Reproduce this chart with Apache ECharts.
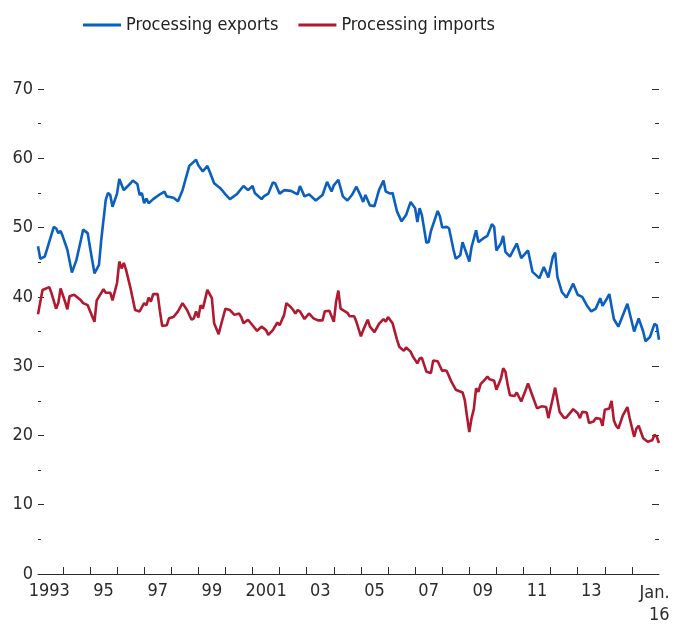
<!DOCTYPE html>
<html>
<head>
<meta charset="utf-8">
<script src="https://cdn.jsdelivr.net/npm/echarts@6/dist/echarts.min.js"></script>
<style>
	html, body { margin: 0; padding: 0; background: #fff; }
	#chart { width: 678px; height: 626px; }
</style>
</head>
<body>
<div id="chart"></div>
<script>
// months counted from Jan 1993 (0 = Jan 1993, 276 = Jan 2016)
var exportsMonths = [1, 2, 4, 8, 9, 10, 11, 12, 14, 16, 18, 20, 21, 23, 24, 26, 28, 29, 31, 32, 33, 34, 36, 37, 39, 42, 43, 45, 46, 47, 48, 49, 50, 52, 55, 57, 58, 61, 63, 65, 68, 71, 72, 74, 76, 77, 79, 82, 84, 86, 89, 92, 94, 96, 97, 100, 101, 103, 105, 106, 108, 110, 113, 116, 117, 119, 121, 122, 124, 127, 129, 131, 132, 134, 136, 138, 140, 142, 144, 145, 146, 148, 150, 152, 154, 155, 157, 158, 160, 162, 164, 166, 168, 169, 170, 171, 173, 174, 175, 178, 179, 180, 182, 183, 185, 186, 188, 189, 192, 193, 195, 196, 198, 200, 202, 203, 204, 206, 207, 208, 210, 213, 215, 218, 220, 223, 225, 227, 229, 230, 231, 233, 235, 238, 240, 242, 244, 246, 248, 250, 251, 253, 254, 256, 258, 262, 265, 267, 269, 270, 272, 274, 275, 276];
var exportsValues = [47.3, 45.5, 45.8, 50.1, 49.9, 49.2, 49.5, 48.7, 46.8, 43.5, 45.3, 48.2, 49.7, 49.2, 47.2, 43.4, 44.6, 48.2, 54.0, 55.0, 54.7, 53.0, 54.9, 57.0, 55.4, 56.4, 56.8, 56.3, 54.7, 55.0, 53.5, 54.2, 53.5, 54.1, 54.8, 55.2, 54.5, 54.3, 53.8, 55.4, 58.9, 59.8, 59.0, 58.1, 58.9, 58.1, 56.4, 55.6, 54.8, 54.1, 54.8, 56.0, 55.4, 56.0, 55.0, 54.1, 54.5, 54.9, 56.5, 56.4, 54.9, 55.4, 55.3, 54.8, 56.0, 54.5, 54.8, 54.5, 53.9, 54.7, 56.6, 55.2, 56.1, 56.9, 54.5, 53.9, 54.7, 55.9, 54.5, 53.7, 54.7, 53.2, 53.1, 55.4, 56.8, 55.2, 54.9, 55.0, 52.3, 50.9, 51.8, 53.7, 52.8, 50.8, 52.8, 51.8, 47.8, 47.9, 49.5, 52.4, 51.6, 50.0, 50.1, 49.9, 46.8, 45.5, 46.0, 47.9, 45.1, 47.2, 49.6, 47.9, 48.4, 48.8, 50.5, 50.1, 46.7, 47.7, 48.8, 46.5, 45.8, 47.7, 45.6, 46.7, 43.6, 42.7, 44.3, 42.8, 45.8, 46.4, 42.9, 40.7, 39.9, 41.9, 40.3, 40.0, 38.8, 37.9, 38.3, 39.8, 38.7, 39.8, 40.4, 36.8, 35.7, 39.0, 35.0, 36.9, 35.0, 33.6, 34.2, 36.1, 35.9, 33.8];

var importsMonths = [1, 3, 6, 7, 9, 10, 11, 13, 14, 15, 17, 20, 21, 23, 26, 27, 30, 31, 33, 34, 36, 37, 38, 39, 40, 42, 44, 46, 48, 49, 50, 51, 52, 54, 55, 56, 58, 59, 61, 63, 65, 67, 69, 70, 71, 72, 73, 74, 76, 78, 79, 81, 82, 84, 86, 88, 90, 91, 92, 94, 96, 98, 99, 100, 102, 103, 105, 107, 108, 110, 111, 113, 114, 115, 116, 117, 119, 121, 123, 125, 127, 128, 130, 132, 133, 134, 135, 138, 139, 141, 142, 144, 145, 147, 148, 150, 152, 154, 155, 156, 158, 160, 161, 163, 164, 166, 167, 169, 170, 171, 173, 175, 176, 178, 180, 181, 182, 184, 186, 189, 190, 191, 192, 193, 194, 195, 196, 197, 199, 200, 201, 203, 204, 206, 207, 208, 209, 210, 212, 213, 215, 217, 218, 220, 222, 224, 226, 227, 229, 230, 232, 234, 235, 238, 240, 241, 242, 244, 245, 247, 248, 250, 251, 252, 254, 255, 256, 257, 258, 260, 262, 263, 265, 266, 267, 269, 271, 273, 274, 275, 276];
var importsValues = [37.5, 41.0, 41.4, 40.5, 38.3, 39.1, 41.2, 39.3, 38.2, 40.1, 40.3, 39.5, 39.1, 38.8, 36.4, 39.5, 41.1, 40.6, 40.6, 39.5, 42.0, 45.1, 44.1, 44.9, 43.9, 41.2, 38.1, 37.9, 39.1, 38.8, 39.9, 39.3, 40.4, 40.4, 37.9, 35.8, 35.9, 36.9, 37.1, 37.9, 39.1, 38.1, 36.7, 36.9, 37.9, 37.0, 38.8, 38.3, 41.0, 39.8, 36.2, 34.6, 35.9, 38.3, 38.1, 37.4, 37.6, 37.1, 36.2, 36.7, 35.9, 35.1, 35.4, 35.7, 35.2, 34.5, 35.2, 36.3, 35.9, 37.4, 39.1, 38.5, 38.1, 37.6, 38.1, 37.9, 36.8, 37.6, 36.9, 36.6, 36.6, 37.9, 38.0, 36.4, 39.3, 40.9, 38.3, 37.7, 37.2, 37.2, 36.4, 34.3, 35.2, 36.7, 35.7, 34.9, 36.1, 36.8, 36.4, 37.1, 36.2, 33.8, 32.8, 32.2, 32.7, 32.1, 31.4, 30.4, 31.1, 31.2, 29.2, 29.0, 30.8, 30.7, 29.3, 29.4, 29.3, 27.8, 26.6, 26.2, 25.1, 22.7, 20.5, 22.5, 23.8, 26.8, 26.3, 27.4, 28.1, 28.5, 28.1, 27.9, 26.6, 28.2, 29.7, 29.2, 27.3, 25.8, 25.7, 26.2, 24.9, 26.6, 27.5, 25.7, 23.9, 24.2, 24.1, 22.5, 25.4, 26.9, 23.4, 22.5, 22.6, 23.8, 23.2, 22.5, 23.4, 23.3, 21.8, 22.0, 22.5, 22.4, 21.4, 23.7, 23.9, 25.0, 22.2, 21.4, 21.0, 22.9, 24.1, 22.5, 19.8, 21.0, 21.4, 19.6, 19.1, 19.3, 20.1, 19.8, 18.9];

// x-axis labels sit mid-year; last one is the end month
var labelMonths = [6, 30, 54, 78, 102, 126, 150, 174, 198, 222, 246, 274];
var labelTexts = ['1993', '95', '97', '99', '2001', '03', '05', '07', '09', '11', '13', 'Jan.\n16'];

var font = '"DejaVu Sans Condensed", "Liberation Sans Narrow", sans-serif';
var fontSize = 18;
var textColor = '#2b2b2b';

function pairs(months, values) {
	return months.map(function (m, i) { return [m, values[i]]; });
}

var yearTicks = [];
for (var y = 1994; y <= 2015; y++) {
	yearTicks.push((y - 1993) * 12);
}

var chart = echarts.init(document.getElementById('chart'), null, { renderer: 'canvas' });

var yAxisBase = {
	type: 'value',
	min: 0,
	max: 70,
	interval: 10,
	splitLine: { show: false },
	axisLine: { show: false },
	axisTick: { show: true, inside: true, length: 6, lineStyle: { color: textColor, width: 1 } },
	minorTick: { show: true, splitNumber: 2, length: 3, lineStyle: { color: textColor, width: 1 } },
	minorSplitLine: { show: false }
};

var option = {
	animation: false,
	backgroundColor: '#fff',
	textStyle: { fontFamily: font },
	legend: {
		left: 83,
		top: 16,
		padding: 0,
		icon: 'rect',
		itemWidth: 38,
		itemHeight: 3,
		itemGap: 20,
		textStyle: { fontFamily: font, fontSize: fontSize, color: '#222' },
		data: ['Processing exports', 'Processing imports']
	},
	grid: {
		left: 38,
		right: 19,
		top: 89,
		bottom: 52,
		containLabel: false,
		outerBoundsMode: 'none'
	},
	xAxis: {
		type: 'value',
		min: 1,
		max: 276,
		splitLine: { show: false },
		axisLine: { show: true, lineStyle: { color: textColor, width: 1 } },
		axisTick: {
			show: true,
			inside: true,
			length: 7,
			customValues: yearTicks,
			lineStyle: { color: textColor, width: 1 }
		},
		axisLabel: {
			customValues: labelMonths,
			margin: 8,
			fontFamily: font,
			fontSize: fontSize,
			color: textColor,
			formatter: function (v) {
				var i = labelMonths.indexOf(v);
				var t = i >= 0 ? labelTexts[i] : '';
				if (t.indexOf('\n') >= 0) {
					return t.split('\n').map(function (s) { return '{r|' + s + '}'; }).join('\n');
				}
				return t;
			},
			rich: {
				r: { align: 'right', fontFamily: font, fontSize: fontSize, color: textColor, lineHeight: 22 }
			}
		}
	},
	yAxis: [
		Object.assign({}, yAxisBase, {
			position: 'left',
			axisLabel: { show: true, margin: 5, fontFamily: font, fontSize: fontSize, color: textColor }
		}),
		Object.assign({}, yAxisBase, {
			position: 'right',
			axisLabel: { show: false },
			axisTick: { show: true, inside: true, length: 7, lineStyle: { color: textColor, width: 1 } },
			minorTick: { show: true, splitNumber: 2, length: 4, lineStyle: { color: textColor, width: 1 } }
		})
	],
	series: [
		{
			name: 'Processing exports',
			type: 'line',
			data: pairs(exportsMonths, exportsValues),
			showSymbol: false,
			symbol: 'none',
			color: '#0a5fbf',
			lineStyle: { width: 2.6, color: '#0a5fbf' }
		},
		{
			name: 'Processing imports',
			type: 'line',
			data: pairs(importsMonths, importsValues),
			showSymbol: false,
			symbol: 'none',
			color: '#b0192f',
			lineStyle: { width: 2.6, color: '#b0192f' }
		}
	]
};

chart.setOption(option);
</script>
</body>
</html>
